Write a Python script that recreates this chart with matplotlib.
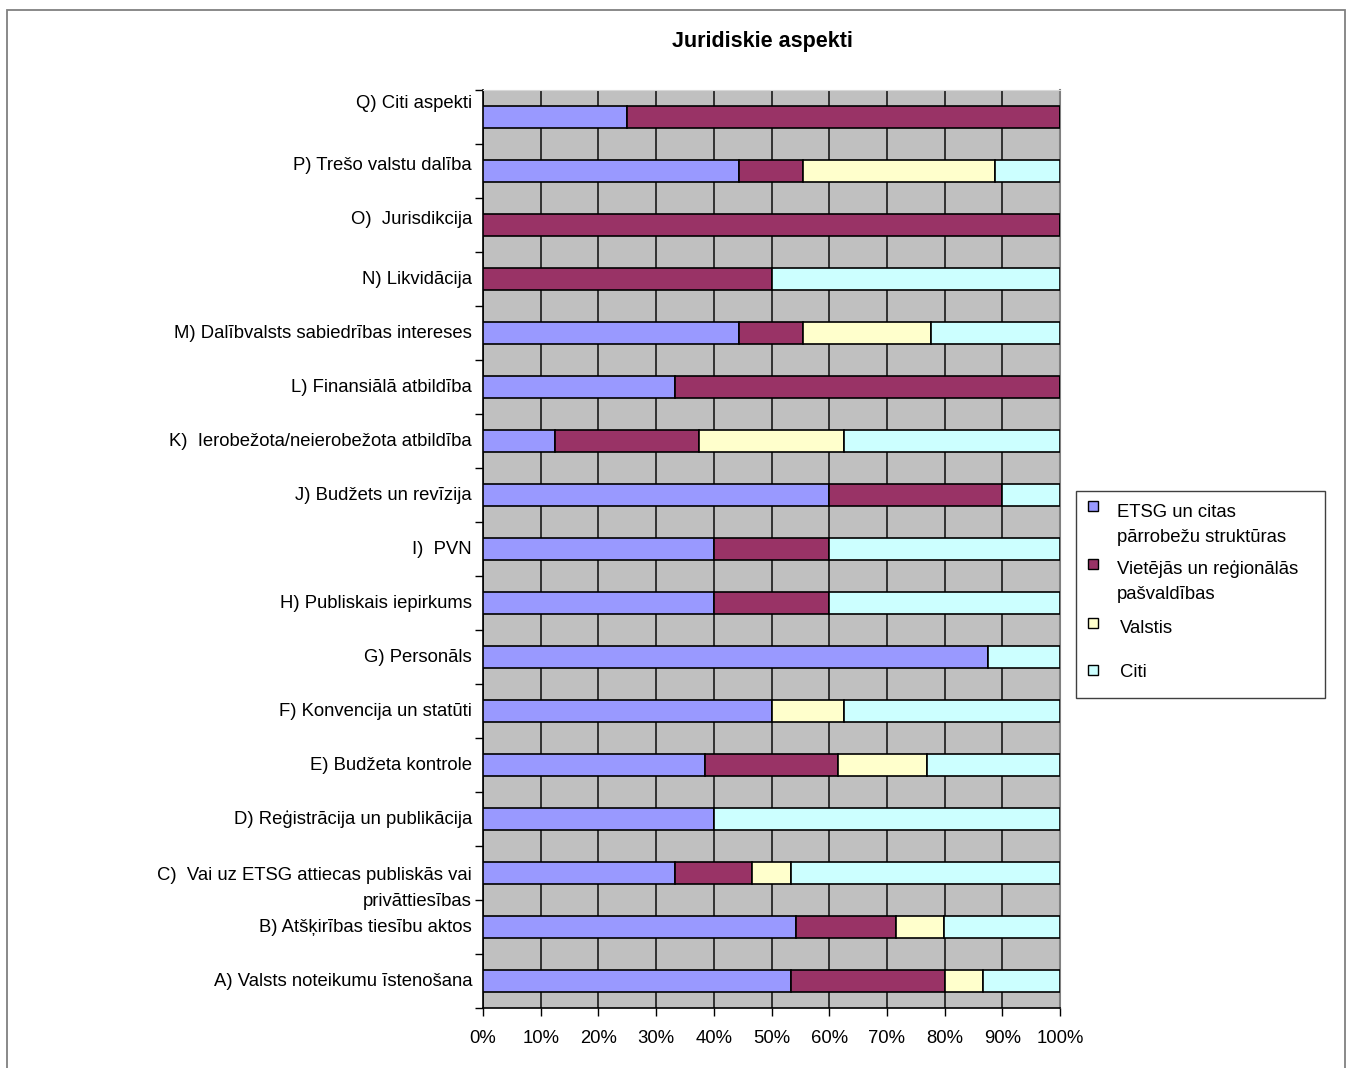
import matplotlib
matplotlib.use('Agg')
import matplotlib.pyplot as plt
from matplotlib.patches import Rectangle
from matplotlib.transforms import ScaledTranslation
import numpy as np

plt.rcParams['font.family'] = ['Liberation Sans', 'DejaVu Sans']

# categories listed bottom (A) to top (Q)
categories = [
    'A) Valsts noteikumu īstenošana',
    'B) Atšķirības tiesību aktos',
    'C)  Vai uz ETSG attiecas publiskās vai\nprivāttiesības',
    'D) Reģistrācija un publikācija',
    'E) Budžeta kontrole',
    'F) Konvencija un statūti',
    'G) Personāls',
    'H) Publiskais iepirkums',
    'I)  PVN',
    'J) Budžets un revīzija',
    'K)  Ierobežota/neierobežota atbildība',
    'L) Finansiālā atbildība',
    'M) Dalībvalsts sabiedrības intereses',
    'N) Likvidācija',
    'O)  Jurisdikcija',
    'P) Trešo valstu dalība',
    'Q) Citi aspekti',
]

# shares in percent
etsg     = [53.3, 54.2, 33.3, 40.0, 38.5, 50.0, 87.5, 40.0, 40.0, 60.0, 12.5, 33.3, 44.4,  0.0,   0.0, 44.4, 25.0]
vietejas = [26.7, 17.4, 13.3,  0.0, 23.1,  0.0,  0.0, 20.0, 20.0, 30.0, 25.0, 66.7, 11.1, 50.0, 100.0, 11.1, 75.0]
valstis  = [ 6.7,  8.3,  6.7,  0.0, 15.4, 12.5,  0.0,  0.0,  0.0,  0.0, 25.0,  0.0, 22.2,  0.0,   0.0, 33.3,  0.0]
citi     = [13.3, 20.1, 46.7, 60.0, 23.0, 37.5, 12.5, 40.0, 40.0, 10.0, 37.5,  0.0, 22.3, 50.0,   0.0, 11.2,  0.0]

series_names = ['ETSG un citas\npārrobežu struktūras',
                'Vietējās un reģionālās\npašvaldības',
                'Valstis',
                'Citi']
colors = ['#9999FF', '#993366', '#FFFFCC', '#CCFFFF']
x_ticks = list(range(0, 101, 10))

# small vertical nudges (pixels, upward) of a few category labels
label_nudge = [0] * 14 + [5, 5, 13]

W, H = 1352, 1068
FS = 13.3
fig = plt.figure(figsize=(W / 100, H / 100), dpi=100)

def fx(px):
    return px / W

def fy(py):
    return 1 - py / H

# outer chart border
fig.patches.append(Rectangle((fx(7), -0.05), fx(1345) - fx(7), fy(10) + 0.05,
                             transform=fig.transFigure, fill=False,
                             edgecolor='#808080', linewidth=1.3))

ax = fig.add_axes([fx(483), fy(1008), fx(1060) - fx(483), fy(90) - fy(1008)])
ax.set_facecolor('#C0C0C0')

y = np.arange(len(categories))
data = np.array([etsg, vietejas, valstis, citi])
left = np.zeros(len(categories))
for vals, col in zip(data, colors):
    ax.barh(y, vals, left=left, height=0.41, color=col,
            edgecolor='black', linewidth=1.2, zorder=3)
    left += vals

ax.set_xlim(0, 100)
ax.set_ylim(-0.5, len(categories) - 0.5)
ax.set_xticks(x_ticks)
ax.set_xticklabels([f'{t}%' for t in x_ticks], fontsize=FS)
ax.tick_params(axis='x', direction='out', length=6, width=1, pad=10)
ax.xaxis.grid(True, color='#1a1a1a', linewidth=1.2, zorder=1)
ax.set_axisbelow(True)

# category boundary ticks on the left axis, labels drawn as text
ax.set_yticks(np.arange(len(categories) + 1) - 0.5)
ax.set_yticklabels([])
ax.tick_params(axis='y', direction='out', length=6, width=1)
ytrans = ax.get_yaxis_transform()
for yi, lab, nd in zip(y, categories, label_nudge):
    tr = ytrans + ScaledTranslation(0, nd / 100, fig.dpi_scale_trans)
    if '\n' in lab:
        ax.text(-0.019, yi - 0.28, lab, transform=tr,
                ha='right', va='center', fontsize=FS, linespacing=1.68,
                multialignment='right')
    else:
        ax.text(-0.019, yi, lab, transform=tr,
                ha='right', va='center', fontsize=FS)

for s in ['left', 'bottom']:
    ax.spines[s].set_color('black')
    ax.spines[s].set_linewidth(1.2)
ax.spines['right'].set_color('#808080')
ax.spines['right'].set_linewidth(1.5)
ax.spines['top'].set_color('#D8D8D8')

fig.text(fx(762), fy(41), 'Juridiskie aspekti', ha='center', va='center',
         fontsize=15.5, fontweight='bold')

# legend box
fig.patches.append(Rectangle((fx(1076), fy(698)), fx(1325) - fx(1076), fy(491) - fy(698),
                             transform=fig.transFigure, facecolor='white',
                             edgecolor='#404040', linewidth=1.0))
marker_tops = [501, 559, 618, 665]
text_tops = [511, 567, 627, 671]
text_x = [1117, 1117, 1120, 1120]
for name, col, mt, tt, tx in zip(series_names, colors, marker_tops, text_tops, text_x):
    fig.patches.append(Rectangle((fx(1088), fy(mt + 10)), fx(10), 10 / H,
                                 transform=fig.transFigure, facecolor=col,
                                 edgecolor='black', linewidth=1.0))
    fig.text(fx(tx), fy(tt - 7), name, ha='left', va='top', fontsize=FS,
             linespacing=1.6)

fig.savefig('out.png', dpi=100)
